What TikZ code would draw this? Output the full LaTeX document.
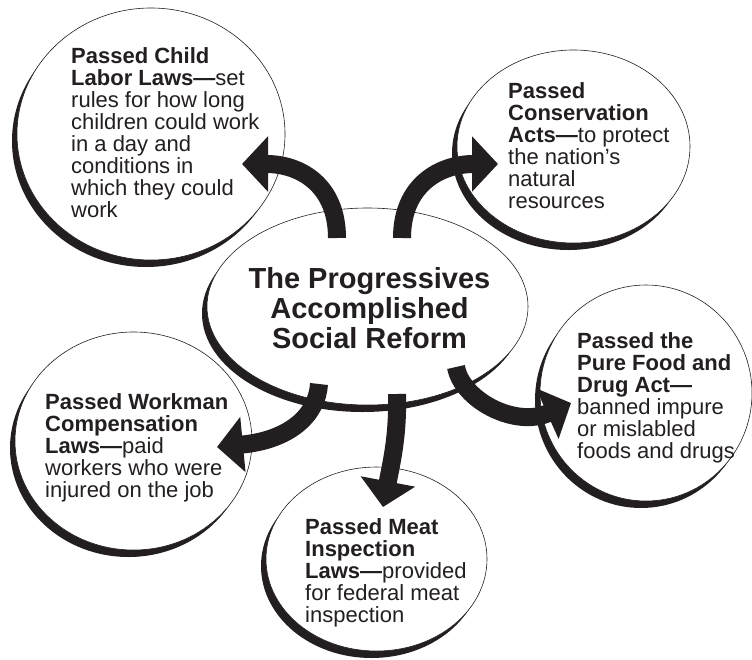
\documentclass[tikz,border=0pt]{standalone}
\usepackage{fontspec}
\setmainfont{Liberation Sans}
\usepackage{tikz}
\usetikzlibrary{arrows.meta,shapes.geometric,shadows}
\definecolor{cInk}{HTML}{231F20}
\tikzset{
  bubble/.style={ellipse, draw=cInk, line width=0.6pt, fill=white, inner sep=0pt,
    drop shadow={shadow xshift=-5pt, shadow yshift=-7pt, fill=cInk, opacity=1}},
  blurb/.style={anchor=north west, inner sep=0pt, align=left, text=cInk,
    font=\fontsize{22}{22}\selectfont},
  headline/.style={anchor=north, inner sep=0pt, align=center, text=cInk,
    font=\bfseries\fontsize{29}{30}\selectfont},
  bigarrow/.style={-{Triangle[length=26pt,width=54pt]}, line width=18pt, draw=cInk},
}

\begin{document}
\begin{tikzpicture}[x=1pt,y=-1pt]
  \useasboundingbox (0,0) rectangle (752,659);
  % outer bubbles
  \node[bubble, minimum width=268, minimum height=252] (child) at (151,134) {};
  \node[bubble, minimum width=233, minimum height=193] (cons) at (573.5,146.5) {};
  \node[bubble, minimum width=237, minimum height=218] (work) at (133.5,441) {};
  \node[bubble, minimum width=221, minimum height=184] (meat) at (376.5,559) {};
  \node[bubble, minimum width=212, minimum height=216] (pure) at (646,393) {};
  % centre
  \node[bubble, minimum width=321, minimum height=197] (hub) at (367.5,306.5) {};
  \node[headline] (hubtxt) at (369.5,267) {The Progressives\\Accomplished\\Social Reform};
  % texts
  \node[blurb] (childtxt) at (71,47) {\textbf{Passed Child}\\\textbf{Labor Laws---}set\\rules for how long\\children could work\\in a day and\\conditions in\\which they could\\work};
  \node[blurb] (constxt) at (508,82) {\textbf{Passed}\\\textbf{Conservation}\\\textbf{Acts---}to protect\\the nation’s\\natural\\resources};
  \node[blurb] (worktxt) at (45,393) {\textbf{Passed Workman}\\\textbf{Compensation}\\\textbf{Laws---}paid\\workers who were\\injured on the job};
  \node[blurb] (meattxt) at (305,518) {\textbf{Passed Meat}\\\textbf{Inspection}\\\textbf{Laws---}provided\\for federal meat\\inspection};
  \node[blurb] (puretxt) at (577,332) {\textbf{Passed the}\\\textbf{Pure Food and}\\\textbf{Drug Act---}\\banned impure\\or mislabled\\foods and drugs};
  % arrow ends
  \coordinate (a1s) at (337,238); \coordinate (a1e) at (242,164);
  \coordinate (a2s) at (402,238); \coordinate (a2e) at (498,164);
  \coordinate (a3s) at (319,384); \coordinate (a3e) at (217,447);
  \coordinate (a4s) at (397,394); \coordinate (a4e) at (383,507);
  \coordinate (a5s) at (456,367); \coordinate (a5e) at (571,403);
  \draw[bigarrow] (a1s) .. controls (337,185) and (300,164) .. (a1e);
  \draw[bigarrow] (a2s) .. controls (402,185) and (440,164) .. (a2e);
  \draw[bigarrow] (a3s) .. controls (317,415) and (290,440) .. (a3e);
  \draw[bigarrow] (a4s) .. controls (398,435) and (392,460) .. (a4e);
  \draw[bigarrow] (a5s) .. controls (462,400) and (515,428) .. (a5e);
\end{tikzpicture}
\end{document}
